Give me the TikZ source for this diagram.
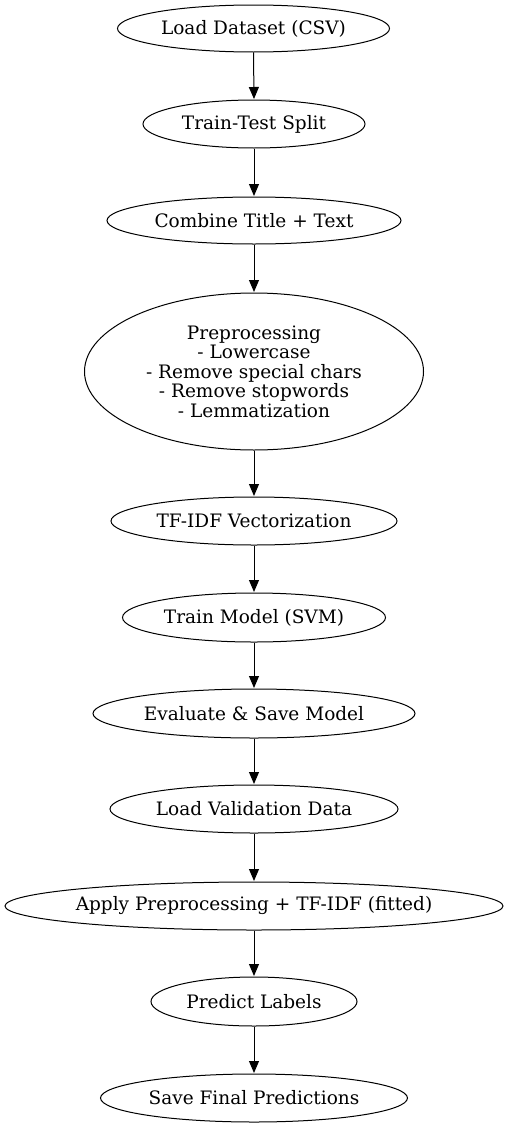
\documentclass[tikz,border=0pt]{standalone}
\usepackage{fontspec}
\setmainfont{DejaVu Serif}
\usetikzlibrary{shapes.geometric,arrows.meta}
\begin{document}
\begin{tikzpicture}[x=1pt,y=-1pt,
  stage/.style={ellipse,draw=black,line width=1pt,inner sep=0pt,
    font=\fontsize{18.5}{19.5}\selectfont,align=center},
  flow/.style={-{Triangle[length=12pt,width=10pt]},line width=1pt,shorten >=0.5pt}]
\useasboundingbox (0,0) rectangle (508,1127);
\node[stage,minimum width=272pt,minimum height=47pt] (n1) at (253.5,28.5) {Load Dataset (CSV)};
\node[stage,minimum width=222pt,minimum height=48pt] (n2) at (254,124) {Train-Test Split};
\node[stage,minimum width=294pt,minimum height=47pt] (n3) at (254,220.5) {Combine Title + Text};
\node[stage,minimum width=339pt,minimum height=157pt] (n4) at (254,371.5) {Preprocessing\\- Lowercase\\- Remove special chars\\- Remove stopwords\\- Lemmatization};
\node[stage,minimum width=286pt,minimum height=48pt] (n5) at (254,521) {TF-IDF Vectorization};
\node[stage,minimum width=263pt,minimum height=49pt] (n6) at (254,617.5) {Train Model (SVM)};
\node[stage,minimum width=322pt,minimum height=49pt] (n7) at (254,713.5) {Evaluate \& Save Model};
\node[stage,minimum width=288pt,minimum height=48pt] (n8) at (254,809) {Load Validation Data};
\node[stage,inner xsep=-8pt,minimum width=498pt,minimum height=48pt] (n9) at (254,906) {Apply Preprocessing + TF-IDF (fitted)};
\node[stage,minimum width=206pt,minimum height=49pt] (n10) at (254,1001.5) {Predict Labels};
\node[stage,minimum width=307pt,minimum height=48pt] (n11) at (254,1098) {Save Final Predictions};
\foreach \a/\b in {n1/n2,n2/n3,n3/n4,n4/n5,n5/n6,n6/n7,n7/n8,n8/n9,n9/n10,n10/n11}
  \draw[flow] (\a.south) -- (\b.north);
\end{tikzpicture}
\end{document}
